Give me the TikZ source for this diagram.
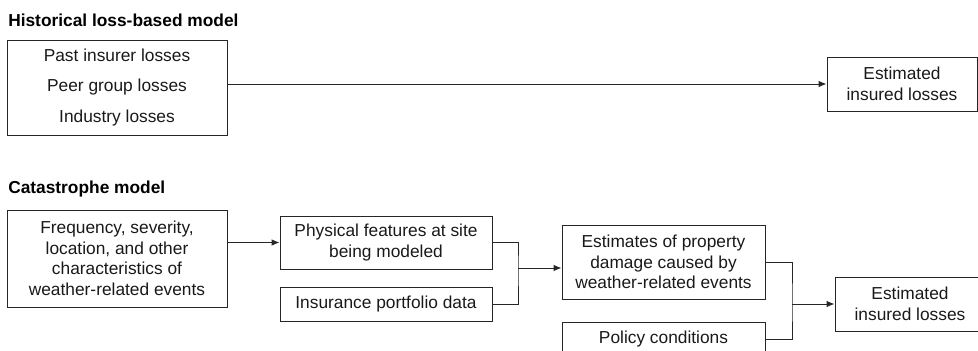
\documentclass[tikz,border=0pt]{standalone}
\usepackage{fontspec}
\setmainfont{Liberation Sans}
\usetikzlibrary{arrows.meta}
\tikzset{box/.style={draw=black!85, line width=0.75pt, align=center, inner sep=0pt, text=black!90, font=\fontsize{13}{15.4}\selectfont},
title/.style={anchor=base west, inner sep=0pt, font=\fontsize{13}{15.4}\selectfont\bfseries},
link/.style={draw=black!85, line width=0.75pt}}

\begin{document}
\begin{tikzpicture}[x=0.75pt,y=-0.75pt,>={Latex[length=6pt,width=5pt]}]
\useasboundingbox (0,0) rectangle (978,350);
% Historical loss-based model
\node[title] (histtitle) at (8,26) {Historical loss-based model};
\node[box, minimum width=165pt, minimum height=71.25pt] (hist) at (117,87.5) {Past insurer losses\\[7.5pt]Peer group losses\\[7.5pt]Industry losses};
\node[box, minimum width=112.5pt, minimum height=40.5pt] (out1) at (902,84) {Estimated\\insured losses};
\draw[link,->] (hist.east |- out1.west) -- (out1.west);

% Catastrophe model
\node[title] (cattitle) at (8,193) {Catastrophe model};
\node[box, minimum width=165pt, minimum height=72.75pt] (freq) at (117,258.5) {Frequency, severity,\\location, and other\\characteristics of\\weather-related events};
\node[box, minimum width=159pt, minimum height=39.75pt] (phys) at (386,242.5) {Physical features at site\\being modeled};
\node[box, minimum width=159pt, minimum height=25.5pt] (port) at (386,304) {Insurance portfolio data};
\node[box, minimum width=152.25pt, minimum height=55.5pt] (est) at (663.5,262) {Estimates of property\\damage caused by\\weather-related events};
\node[box, minimum width=152.25pt, minimum height=25.5pt] (policy) at (663.5,339) {Policy conditions};
\node[box, minimum width=112.5pt, minimum height=40.5pt] (out2) at (910,304) {Estimated\\insured losses};

\coordinate (j1) at (518,268);
\coordinate (j2) at (792,304);

\draw[link,->] (freq.east |- phys.west) -- (phys.west);
\draw[link] (phys.east) -| (j1) |- (port.east);
\draw[link,->] (j1) -- (est.west |- j1);
\draw[link] (est.east) -| (j2) |- (policy.east);
\draw[link,->] (j2) -- (out2.west);

\end{tikzpicture}
\end{document}
